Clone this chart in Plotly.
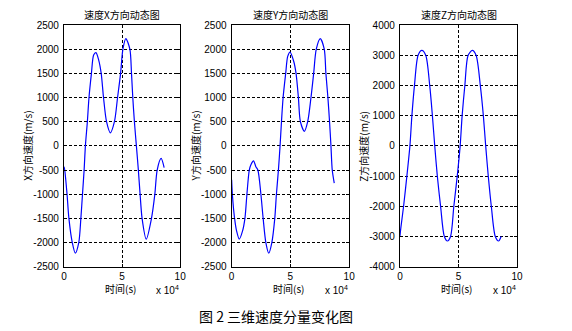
import plotly.graph_objects as go

# Time in units of 10^4 s, velocity in m/s
t_x = [0.0, 0.06, 0.26, 0.42, 0.71, 0.97, 1.27, 1.45, 1.59, 1.73, 1.84, 2.01, 2.15, 2.36,
       2.55, 2.75, 2.98, 3.20, 3.40, 3.66, 3.99, 4.34, 4.61, 4.87, 5.07, 5.32, 5.67, 5.81,
       5.92, 6.06, 6.23, 6.40, 6.55, 6.72, 7.08, 7.53, 7.82, 8.02, 8.36, 8.62]
v_x = [-430, -500, -1000, -1500, -2000, -2220, -2000, -1500, -1000, -500, 0, 500, 1000, 1500,
       1880, 1930, 1780, 1500, 1000, 500, 270, 500, 1000, 1500, 2000, 2220, 2000, 1500,
       1000, 500, 0, -500, -1000, -1500, -1930, -1500, -1000, -500, -260, -450]

t_y = [0.0, 0.06, 0.25, 0.42, 0.65, 0.93, 1.13, 1.30, 1.50, 1.64, 1.86, 2.06, 2.23, 2.49,
       2.68, 2.91, 3.16, 3.42, 3.67, 3.81, 3.98, 4.12, 4.24, 4.38, 4.60, 4.77, 4.97, 5.28,
       5.48, 5.68, 5.85, 6.19, 6.47, 6.75, 6.98, 7.20, 7.54, 7.88, 8.02, 8.19, 8.33, 8.45,
       8.56, 8.73]
v_y = [-700, -1000, -1500, -1760, -1930, -1760, -1500, -1000, -500, -390, -310, -430, -500, -1000,
       -1500, -2000, -2220, -2000, -1500, -1000, -500, 0, 500, 1000, 1500, 1850, 1940, 1750,
       1500, 1000, 500, 300, 500, 1000, 1500, 2000, 2220, 2000, 1500, 1000, 500, 0,
       -500, -770]

t_z = [0.0, 0.08, 0.31, 0.59, 0.85, 1.02, 1.24, 1.55, 1.87, 2.20, 2.54, 2.77, 2.97, 3.19,
       3.47, 3.79, 4.05, 4.32, 4.60, 4.89, 5.14, 5.31, 5.54, 5.82, 6.18, 6.50, 6.86, 7.12,
       7.32, 7.54, 7.80, 8.14, 8.42, 8.64]
v_z = [-2980, -2700, -2000, -1000, 0, 1000, 2000, 3000, 3160, 3000, 2000, 1000, 0, -1000,
       -2000, -3000, -3150, -3000, -2000, -1000, 0, 1000, 2000, 3000, 3160, 3000, 2000, 1000,
       0, -1000, -2000, -3000, -3150, -3000]

x_ticks = [0, 5, 10]
xy_ticks = [-2500, -2000, -1500, -1000, -500, 0, 500, 1000, 1500, 2000, 2500]
z_ticks = [-4000, -3000, -2000, -1000, 0, 1000, 2000, 3000, 4000]

panel_titles = ["速度X方向动态图", "速度Y方向动态图", "速度Z方向动态图"]
y_titles = ["X方向速度(m/s)", "Y方向速度(m/s)", "Z方向速度(m/s)"]
x_title = "时间(s)"
caption = "图 2 三维速度分量变化图"

W, H = 572, 331
LAT = "Liberation Sans, Arial, sans-serif"
CJK = "Noto Sans CJK SC, sans-serif"

# panel extents in pixels (left, right); shared top/bottom
panels = [(62, 180), (232.3, 351.7), (403.3, 522.3)]
top_px, bot_px = 20.7, 270.7

series = [(t_x, v_x, xy_ticks), (t_y, v_y, xy_ticks), (t_z, v_z, z_ticks)]

fig = go.Figure()
annotations = []
for i, ((l, r), (t, v, yt)) in enumerate(zip(panels, series)):
    n = "" if i == 0 else str(i + 1)
    fig.add_trace(go.Scatter(
        x=t, y=v, mode="lines", xaxis="x" + n, yaxis="y" + n,
        line=dict(color="#0000ff", width=1.2, shape="spline", smoothing=0.8),
        showlegend=False, hoverinfo="skip"))
    common = dict(showline=True, linecolor="black", linewidth=1.2, mirror="ticks",
                  ticks="inside", ticklen=3, tickcolor="black",
                  showgrid=True, gridcolor="black", gridwidth=1, griddash="3px,2px",
                  zeroline=False, tickfont=dict(family=LAT, size=10, color="black"))
    fig.layout["xaxis" + n] = dict(
        domain=[l / W, r / W], anchor="y" + n, range=[0, 10],
        tickvals=x_ticks, ticktext=[str(k) for k in x_ticks], **common)
    fig.layout["yaxis" + n] = dict(
        domain=[1 - bot_px / H, 1 - top_px / H], anchor="x" + n,
        range=[yt[0], yt[-1]], tickvals=yt, ticktext=[str(k) for k in yt],
        ticklabelstandoff=2, **common)
    cx = (l + r) / 2
    annotations.append(dict(text=panel_titles[i], x=cx / W, y=1 - 10 / H,
                            xref="paper", yref="paper", showarrow=False,
                            xanchor="center", yanchor="middle",
                            font=dict(family=CJK, size=10, color="black")))
    annotations.append(dict(text=y_titles[i], x=(l - 37) / W, y=1 - 146 / H,
                            xref="paper", yref="paper", showarrow=False, textangle=-90,
                            xanchor="center", yanchor="middle",
                            font=dict(family=CJK, size=10, color="black")))
    annotations.append(dict(text=x_title, x=(cx - 2) / W, y=1 - 293 / H,
                            xref="paper", yref="paper", showarrow=False,
                            xanchor="center", yanchor="middle",
                            font=dict(family=CJK, size=10, color="black")))
    annotations.append(dict(text="x 10<sup>4</sup>", x=(r + 1) / W, y=1 - 295 / H,
                            xref="paper", yref="paper", showarrow=False,
                            xanchor="right", yanchor="middle",
                            font=dict(family=LAT, size=10, color="black")))

annotations.append(dict(text=caption, x=277 / W, y=1 - 322 / H, xref="paper", yref="paper",
                        showarrow=False, xanchor="center", yanchor="middle",
                        font=dict(family=CJK, size=14, color="black")))

fig.update_layout(width=W, height=H, margin=dict(l=0, r=0, t=0, b=0),
                  paper_bgcolor="white", plot_bgcolor="white",
                  annotations=annotations)

fig.write_html("out.html")
